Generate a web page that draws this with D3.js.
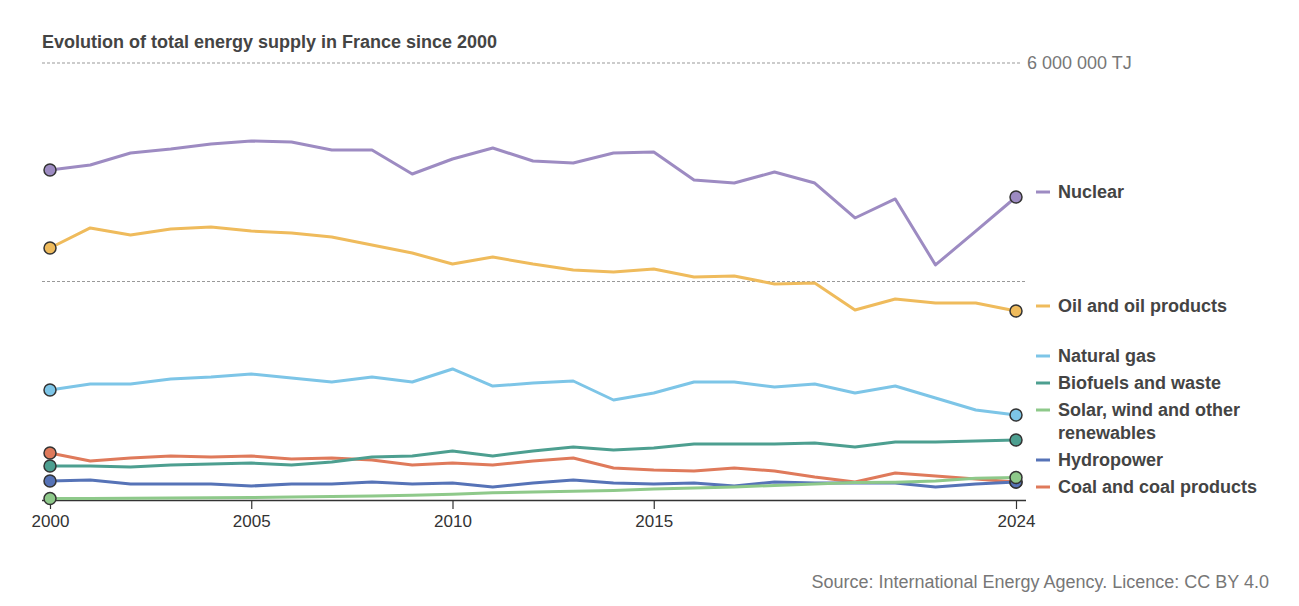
<!DOCTYPE html>
<html lang="en">
  <head>
    <script src="https://d3js.org/d3.v7.min.js"></script>
    <style>
      body {
        margin: 0;
        background: #fff;
        font-family: "Liberation Sans", Arial, sans-serif;
      }
      .grid {
        stroke: #999;
        stroke-dasharray: 3, 2;
        stroke-width: 1;
      }
      .series {
        fill: none;
        stroke-width: 3;
        stroke-linejoin: round;
      }
    </style>
  </head>

  <body>
    <svg width="1299" height="606"></svg>
    <script>
      // values in thousand TJ
      var years = d3.range(2000, 2025);
      var nuclear = [4531, 4600, 4764, 4819, 4888, 4929, 4915, 4806, 4806, 4476, 4682, 4833, 4654, 4627, 4764, 4778, 4394, 4352, 4503, 4352, 3872, 4133, 3227, 3693, 4160];
      var oil = [3460, 3735, 3638, 3721, 3748, 3693, 3666, 3611, 3501, 3391, 3240, 3336, 3240, 3158, 3130, 3172, 3062, 3076, 2966, 2979, 2609, 2760, 2705, 2705, 2595];
      var gas = [1510, 1593, 1593, 1661, 1689, 1730, 1675, 1620, 1689, 1620, 1799, 1565, 1606, 1634, 1373, 1469, 1620, 1620, 1552, 1593, 1469, 1565, 1401, 1236, 1167];
      var biofuels = [467, 467, 453, 481, 494, 508, 481, 522, 590, 604, 673, 604, 673, 728, 687, 714, 769, 769, 769, 783, 728, 796, 796, 810, 824];
      var solarWind = [20, 22, 25, 28, 30, 35, 40, 48, 55, 65, 80, 100, 110, 120, 130, 150, 165, 180, 200, 220, 240, 245, 260, 300, 310];
      var hydro = [261, 275, 220, 220, 220, 192, 220, 220, 247, 220, 233, 178, 233, 275, 233, 220, 233, 192, 247, 233, 233, 233, 178, 220, 247];
      var coal = [645, 535, 577, 604, 590, 604, 563, 577, 549, 481, 508, 481, 535, 577, 439, 412, 398, 439, 398, 316, 247, 371, 330, 288, 247];

      var seriesNames = [
        ["Nuclear"],
        ["Oil and oil products"],
        ["Natural gas"],
        ["Biofuels and waste"],
        ["Solar, wind and other", "renewables"],
        ["Hydropower"],
        ["Coal and coal products"],
      ];
      var seriesColors = ["#9d8bc2", "#efbb5c", "#7dc5e7", "#4d9f90", "#8ec98a", "#5673b7", "#df7a5b"];
      var seriesValues = [nuclear, oil, gas, biofuels, solarWind, hydro, coal];

      var xTicks = [2000, 2005, 2010, 2015, 2024];
      var gridTicks = [3000, 6000];

      var svg = d3.select("svg");
      var fr = d3.formatLocale({ decimal: ".", thousands: " ", grouping: [3] });
      var fmt = fr.format(",");

      var x = d3.scaleLinear().domain([2000, 2024]).range([50, 1016]);
      var y = d3.scaleLinear().domain([0, 6000]).range([500, 63]);

      //title
      svg
        .append("text")
        .attr("x", 42)
        .attr("y", 48)
        .attr("font-size", "18px")
        .attr("font-weight", "bold")
        .attr("fill", "#444")
        .text("Evolution of total energy supply in France since 2000");

      //dashed grid lines, only the top one gets a label
      gridTicks.forEach(function (t) {
        var top = t === d3.max(gridTicks);
        svg
          .append("line")
          .attr("class", "grid")
          .attr("x1", 42)
          .attr("x2", top ? 1020 : 1025)
          .attr("y1", y(t))
          .attr("y2", y(t));
        if (top) {
          svg
            .append("text")
            .attr("x", 1027)
            .attr("y", y(t))
            .attr("dy", "0.35em")
            .attr("font-size", "18px")
            .attr("fill", "#777")
            .text(fmt(t * 1000) + " TJ");
        }
      });

      //x axis
      var xAxis = svg
        .append("g")
        .attr("transform", "translate(0,500)")
        .call(d3.axisBottom(x).tickValues(xTicks).tickFormat(d3.format("d")).tickSizeOuter(0).tickSize(9));
      xAxis.select(".domain").attr("d", "M42,0.5H1026").attr("stroke", "#333").attr("stroke-width", 1.5);
      xAxis.selectAll(".tick line").attr("stroke", "#333").attr("stroke-width", 1.2);
      xAxis
        .selectAll(".tick text")
        .attr("font-family", "Liberation Sans, Arial, sans-serif")
        .attr("font-size", "17px")
        .attr("fill", "#333")
        .attr("dy", "0.9em");

      var line = d3
        .line()
        .x(function (d, i) {
          return x(years[i]);
        })
        .y(function (d) {
          return y(d);
        });

      //lines (bottom series first so the big ones sit on top)
      var order = d3.range(seriesValues.length).reverse();
      order.forEach(function (k) {
        svg.append("path").attr("class", "series").attr("stroke", seriesColors[k]).attr("d", line(seriesValues[k]));
      });

      //end dots
      order.forEach(function (k) {
        var v = seriesValues[k];
        [0, v.length - 1].forEach(function (i) {
          svg
            .append("circle")
            .attr("cx", x(years[i]))
            .attr("cy", y(v[i]))
            .attr("r", 6)
            .attr("fill", seriesColors[k])
            .attr("stroke", "#333")
            .attr("stroke-width", 1.5);
        });
      });

      //legend labels: cluster overlapping ones around their mean, keep above the axis
      var lineH = 23;
      var pitch = 27;
      var maxY = 487;
      var labels = seriesNames.map(function (n, k) {
        var v = seriesValues[k];
        return { k: k, lines: n, want: y(v[v.length - 1]) - 5, size: pitch + lineH * (n.length - 1) };
      });
      labels.sort(function (a, b) {
        return a.want - b.want;
      });
      var clusters = labels.map(function (l) {
        return { items: [l] };
      });
      function place(c) {
        var off = 0;
        var s = 0;
        c.items.forEach(function (l) {
          l.off = off;
          s += l.want - off;
          off += l.size;
        });
        c.top = s / c.items.length;
        var last = c.items[c.items.length - 1];
        var bottom = c.top + last.off + lineH * (last.lines.length - 1);
        if (bottom > maxY) c.top -= bottom - maxY;
        c.end = c.top + off;
      }
      clusters.forEach(place);
      var merged = true;
      while (merged) {
        merged = false;
        for (var i = 0; i < clusters.length - 1; i++) {
          if (clusters[i].end > clusters[i + 1].top) {
            clusters[i].items = clusters[i].items.concat(clusters[i + 1].items);
            clusters.splice(i + 1, 1);
            place(clusters[i]);
            merged = true;
            break;
          }
        }
      }

      clusters.forEach(function (c) {
        c.items.forEach(function (l) {
          var ly = c.top + l.off;
          svg
            .append("line")
            .attr("x1", 1036)
            .attr("x2", 1050)
            .attr("y1", ly)
            .attr("y2", ly)
            .attr("stroke", seriesColors[l.k])
            .attr("stroke-width", 3);
          l.lines.forEach(function (t, j) {
            svg
              .append("text")
              .attr("x", 1058)
              .attr("y", ly + j * lineH)
              .attr("dy", "0.35em")
              .attr("font-size", "18px")
              .attr("font-weight", "bold")
              .attr("fill", "#444")
              .text(t);
          });
        });
      });

      //source line
      svg
        .append("text")
        .attr("x", 1269)
        .attr("y", 582)
        .attr("dy", "0.35em")
        .attr("text-anchor", "end")
        .attr("font-size", "18px")
        .attr("fill", "#777")
        .text("Source: International Energy Agency. Licence: CC BY 4.0");
    </script>
  </body>
</html>
